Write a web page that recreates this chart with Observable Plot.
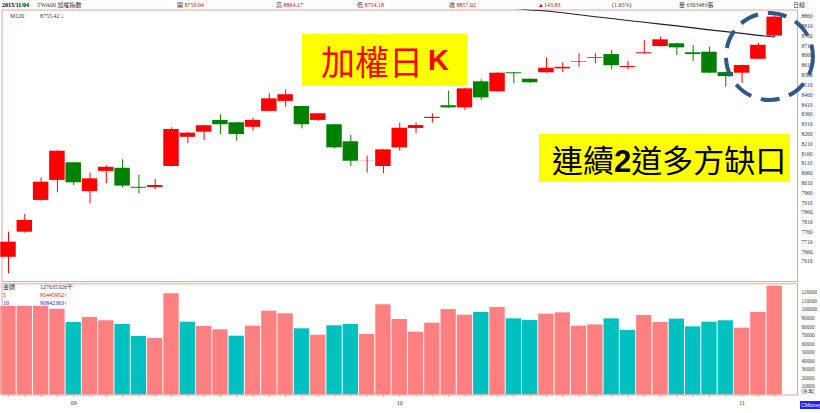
<!DOCTYPE html>
<html><head><meta charset="utf-8">
<script src="https://cdn.jsdelivr.net/npm/d3@7"></script>
<script src="https://cdn.jsdelivr.net/npm/@observablehq/plot@0.6"></script>
<style>
body{margin:0;background:#fff;}
#wrap{position:relative;width:820px;height:413px;overflow:hidden;background:#fff;font-family:"Liberation Serif","Noto Sans CJK TC",serif;}
#wrap svg{position:absolute;left:0;overflow:visible;}
.t{position:absolute;white-space:nowrap;transform:translateY(-50%);font-size:6px;line-height:7px;color:#333;}
.r{color:#e60000;}
.b{color:#1a1aff;}
.box{position:absolute;background:#ffff00;display:flex;align-items:center;white-space:nowrap;font-family:"Noto Sans CJK TC",sans-serif;}
</style></head><body>
<div id="wrap">
  <div class="t" style="left:2px;top:4.5px;font-weight:bold;color:#000">2015/11/04</div>
  <div class="t" style="left:37px;top:4.5px">TWA00 加權指數</div>
  <div class="t" style="left:177px;top:4.5px">開 <span class="r">8759.94</span></div>
  <div class="t" style="left:276px;top:4.5px">高 <span class="r">8864.17</span></div>
  <div class="t" style="left:357px;top:4.5px">低 <span class="r">8754.18</span></div>
  <div class="t" style="left:449px;top:4.5px">收 <span class="r">8857.02</span></div>
  <div class="t r" style="left:538px;top:4.5px">▲143.83</div>
  <div class="t" style="left:612px;top:4.5px">(1.65%)</div>
  <div class="t" style="left:679px;top:4.5px">量 6303483張</div>
  <div class="t" style="left:793px;top:4.5px">日線</div>
  <div class="t" style="left:10px;top:16px">M120</div>
  <div class="t" style="left:40px;top:16px">8755.42 ↓</div>

  <div class="box" style="left:302px;top:34px;width:165px;height:52px;">
    <span style="padding-left:19px;font-size:34px;color:#ff0000;">加權日</span><span style="font-family:'Liberation Sans',sans-serif;font-weight:bold;font-size:29px;color:#ff0000;margin-left:5px;">K</span>
  </div>
  <div class="box" style="left:539px;top:134px;width:251px;height:48px;">
    <span style="padding-left:13px;font-size:31px;color:#000;">連續<b style="font-family:'Liberation Sans',sans-serif;">2</b>道多方缺口</span>
  </div>

  <div class="t" style="left:3px;top:287px">金額</div>
  <div class="t" style="left:40px;top:287px">127635326千</div>
  <div class="t r" style="left:3px;top:295px">5</div>
  <div class="t r" style="left:40px;top:295px">95445952↑</div>
  <div class="t b" style="left:3px;top:302.5px">10</div>
  <div class="t b" style="left:40px;top:302.5px">90842363↑</div>

  <div style="position:absolute;left:800px;top:401px;width:22px;height:8px;background:#2222ff;color:#fff;font:5.5px 'Liberation Sans',sans-serif;line-height:8px;padding-left:1px;">CMoney</div>
</div>
<script>
// ---- data ----
const dates = [
  "2015-08-26","2015-08-27","2015-08-28","2015-08-31",
  "2015-09-01","2015-09-02","2015-09-03","2015-09-04","2015-09-07","2015-09-08","2015-09-09","2015-09-10","2015-09-11",
  "2015-09-14","2015-09-15","2015-09-16","2015-09-17","2015-09-18","2015-09-21","2015-09-22","2015-09-23","2015-09-24","2015-09-25","2015-09-30",
  "2015-10-01","2015-10-02","2015-10-05","2015-10-06","2015-10-07","2015-10-08","2015-10-12","2015-10-13","2015-10-14","2015-10-15","2015-10-16",
  "2015-10-19","2015-10-20","2015-10-21","2015-10-22","2015-10-23","2015-10-26","2015-10-27","2015-10-28","2015-10-29","2015-10-30",
  "2015-11-02","2015-11-03","2015-11-04"
];
const opens  = [7632,7760,7922,8024,8114,7967,8070,8086,7989,7988,8095,8244,8270,8330,8318,8295,8376,8427,8401,8330,8308,8221,8124,8095,
                8190,8289,8340,8405,8394,8527,8476,8573,8540,8573,8593,8627,8647,8666,8600,8670,8707,8721,8675,8678,8574,8571,8642,8759.94];
const highs  = [7760,7850,8037,8175,8116,8061,8098,8129,8049,8029,8292,8268,8305,8359,8320,8341,8466,8486,8403,8366,8310,8253,8148,8182,
                8316,8318,8364,8479,8493,8537,8573,8575,8542,8649,8625,8670,8670,8687,8631,8738,8754,8723,8712,8703,8576,8612,8724,8864.17];
const lows   = [7548,7755,7918,7961,7998,7905,8007,7986,7956,7976,8093,8211,8228,8258,8224,8275,8374,8397,8287,8325,8185,8095,8061,8058,
                8173,8262,8316,8392,8381,8432,8474,8517,8518,8571,8574,8601,8619,8588,8588,8668,8705,8661,8631,8569,8500,8520,8640,8754.18];
const closes = [7709,7820,8015,8173,8012,8032,8091,7995,7984,7998,8284,8265,8303,8308,8258,8330,8440,8461,8308,8364,8190,8122,8125,8180,
                8290,8304,8346,8394,8491,8445,8571,8568,8522,8596,8601,8630,8651,8609,8605,8675,8741,8700,8666,8571,8554,8610,8713.19,8857.02];
// trading amount, 百萬
const amounts = [104000,104000,104000,100700,85100,91000,87100,82700,68700,66300,118800,85400,80400,76500,69000,80800,98400,95300,77700,70200,81200,82700,71000,105900,
                 88600,73700,84300,100300,93700,96800,102700,89400,87400,94900,96400,80800,82300,89400,75700,93300,85100,89000,80000,85400,87100,78400,96800,127635];
// 120-day moving average (only the part inside the window; earlier values lie above the top)
const ma120Index = [30,31,32,33,34,35,36,37,38,39,40,41,42,43,44,45,46,47];
const ma120 = [8909,8901,8893,8888,8879,8869,8859,8850,8840,8831,8821,8812,8802,8792,8783,8774,8764,8755.42];
const priceTicks = [7610,7660,7710,7760,7810,7860,7910,7960,8010,8060,8110,8160,8210,8260,8310,8360,8410,8460,8510,8560,8610,8660,8710,8760,8810,8860];
const volTicks = [10000,20000,30000,40000,50000,60000,70000,80000,90000,100000,110000,120000];
// highlighted area (dashed circle) in data units: bar index, price
const highlight = [{i: 46.68, p: 8656}];

// ---- styling ----
const RED = "#ff0000", GREEN = "#008000", PINK = "#ff8080", TEAL = "#00c0c0", FRAME = "#eaa0a0";
const xDomain = [-0.399, 48.4];

const idx = d3.range(dates.length);
const candles = idx.map(i => ({i, open: opens[i], high: highs[i], low: lows[i], close: closes[i]}));
const candleColor = d => d.close >= d.open ? RED : GREEN;
const ma = ma120Index.map((i, k) => ({i, v: ma120[k]}));
const vols = idx.map(i => ({i, amt: amounts[i], up: i === 0 || closes[i] >= closes[i - 1]}));
const monthLabel = idx.map(i => (i > 0 && dates[i].slice(5, 7) !== dates[i - 1].slice(5, 7)) ? dates[i].slice(5, 7) : "");

const pricePanel = Plot.plot({
  width: 820, height: 282,
  marginLeft: 1.5, marginRight: 23, marginTop: 9.5, marginBottom: 1,
  x: {domain: xDomain, axis: null},
  y: {domain: [7508.5, 8893.2], axis: null, label: null},
  color: {type: "identity"},
  style: {background: "transparent", overflow: "visible"},
  marks: [
    Plot.frame({stroke: FRAME}),
    Plot.ruleX(candles, {x: "i", y1: "low", y2: "high", stroke: candleColor, strokeWidth: 1}),
    Plot.rect(candles, {x1: d => d.i - 0.475, x2: d => d.i + 0.475, y1: "open", y2: "close", fill: candleColor}),
    Plot.line(ma, {x: "i", y: "v", stroke: "#1c1c3a", strokeWidth: 1.1, clip: true}),
    Plot.axisY(priceTicks, {anchor: "right", tickSize: 0, tickPadding: 4, fontSize: 5.5, fontFamily: "Liberation Serif", fill: "#333", label: null, tickFormat: d => String(d)}),
    Plot.dot(highlight, {x: "i", y: "p", r: 43.5, fill: "none", stroke: "#30598a", strokeWidth: 4, strokeDasharray: "19,10"})
  ]
});
pricePanel.style.top = "0px";

const volumePanel = Plot.plot({
  width: 820, height: 131,
  marginLeft: 1.5, marginRight: 23, marginTop: 1.3, marginBottom: 18.5,
  x: {domain: xDomain, axis: null, label: null},
  y: {domain: [0, 130500], axis: null, label: null},
  color: {type: "identity"},
  style: {background: "transparent", overflow: "visible"},
  marks: [
    Plot.rect(vols, {x1: d => d.i - 0.47, x2: d => d.i + 0.47, y1: 0, y2: "amt", fill: d => d.up ? PINK : TEAL}),
    Plot.frame({stroke: FRAME}),
    Plot.axisY(volTicks, {anchor: "right", tickSize: 0, tickPadding: 4, fontSize: 5.2, fontFamily: "Liberation Serif", fill: "#333", label: null, tickFormat: d => String(d)}),
    Plot.text(["(百萬)"], {frameAnchor: "bottom-right", textAnchor: "start", dx: 4, dy: -2.5, fontSize: 4.5, fill: "#333"}),
    Plot.axisX(idx, {anchor: "bottom", tickSize: 2.5, tickPadding: 3, stroke: FRAME, fill: "#333", fontSize: 6, fontFamily: "Liberation Serif", label: null, tickFormat: i => monthLabel[i]})
  ]
});
volumePanel.style.top = "282px";

const wrap = document.getElementById("wrap");
wrap.insertBefore(volumePanel, wrap.firstChild);
wrap.insertBefore(pricePanel, wrap.firstChild);
</script>
</body></html>
